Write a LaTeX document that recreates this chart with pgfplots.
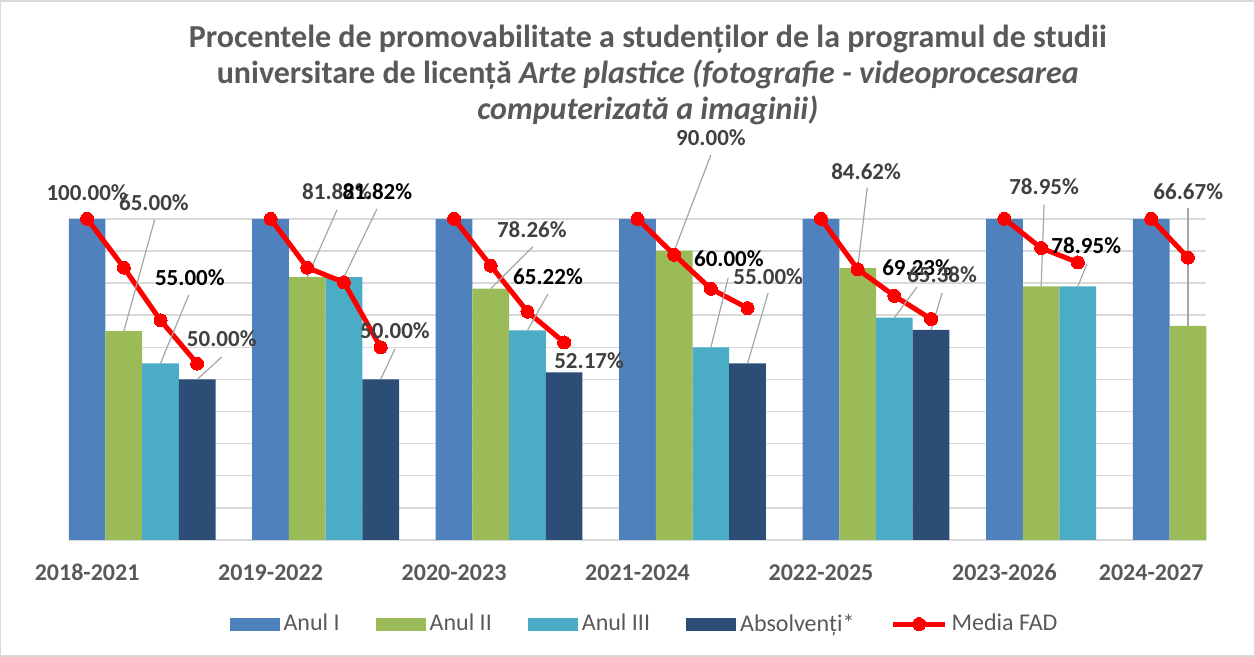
\documentclass[border=0pt]{standalone}
\usepackage{fontspec}
\setmainfont{Carlito}
\usepackage{pgfplots}
\pgfplotsset{compat=1.18}

\definecolor{anul1}{HTML}{4F81BD}
\definecolor{anul2}{HTML}{9BBB59}
\definecolor{anul3}{HTML}{4BACC6}
\definecolor{absolv}{HTML}{2C4D75}
\definecolor{cred}{HTML}{FF0000}
\definecolor{cgrid}{HTML}{D9D9D9}
\definecolor{caxis}{HTML}{595959}
\definecolor{clab}{HTML}{404040}
\definecolor{cld}{HTML}{A6A6A6}

\pgfplotsset{
  barleg/.style={legend image code/.code={\fill[##1] (0pt,-3.25pt) rectangle (25pt,3.25pt);}},
  lineleg/.style={legend image code/.code={\draw[mark repeat=2,mark phase=2,##1] plot coordinates {(0pt,0pt) (13pt,0pt) (26pt,0pt)};}},
}
\tikzset{
  lg/.style={font=\bfseries\fontsize{11.5}{13}\selectfont, text=clab, inner sep=0pt},
  lb/.style={font=\bfseries\fontsize{11.5}{13}\selectfont, text=black, inner sep=0pt},
  ld/.style={draw=cld, line width=0.6pt},
}

\begin{document}
\begin{tikzpicture}
\begin{axis}[
    scale only axis,
    width=568.5pt, height=160.5pt,
    xmin=-0.5, xmax=30.5,
    ymin=0, ymax=100,
    clip=false,
    axis line style={draw=none},
    major tick length=0pt,
    ytick={0,10,...,100},
    yticklabel style={opacity=0},
    ymajorgrids,
    grid style={cgrid, line width=0.75pt},
    xtick={0,5,10,15,20,25,29},
    xticklabels={2018-2021,2019-2022,2020-2023,2021-2024,2022-2025,2023-2026,2024-2027},
    xticklabel style={font=\bfseries\fontsize{12}{14}\selectfont, text=caxis, anchor=base, yshift=-20.5pt},
    legend columns=5,
    legend cell align=left,
    legend style={draw=none, fill=none, at={(0.507,-0.262)}, anchor=center,
        font=\fontsize{12}{14}\selectfont, text=caxis,
        nodes={inner xsep=2pt},
        /tikz/every even column/.append style={column sep=16pt}},
]
% Anul I
\addplot[ybar, bar width=1, bar shift=0pt, fill=anul1, draw=none, barleg] coordinates {
    (0,100) (5,100) (10,100) (15,100) (20,100) (25,100) (29,100)
};
\addlegendentry{Anul I}
% Anul II
\addplot[ybar, bar width=1, bar shift=0pt, fill=anul2, draw=none, barleg] coordinates {
    (1,65) (6,81.82) (11,78.26) (16,90) (21,84.62) (26,78.95) (30,66.67)
};
\addlegendentry{Anul II}
% Anul III
\addplot[ybar, bar width=1, bar shift=0pt, fill=anul3, draw=none, barleg] coordinates {
    (2,55) (7,81.82) (12,65.22) (17,60) (22,69.23) (27,78.95)
};
\addlegendentry{Anul III}
% Absolventi
\addplot[ybar, bar width=1, bar shift=0pt, fill=absolv, draw=none, barleg] coordinates {
    (3,50) (8,50) (13,52.17) (18,55) (23,65.38)
};
\addlegendentry{Absolvenți*}
% Media FAD, one broken line per promotion
\addplot[cred, line width=2.5pt, mark=*, mark size=3.25pt,
    mark options={solid, fill=cred, draw=cred, line width=0pt},
    unbounded coords=jump, lineleg] coordinates {
    (0,100) (1,84.8) (2,68.4) (3,54.9) (4,nan)
    (5,100) (6,84.8) (7,80.2) (8,60.0) (9,nan)
    (10,100) (11,85.4) (12,71.1) (13,61.5) (14,nan)
    (15,100) (16,88.8) (17,78.2) (18,72.2) (19,nan)
    (20,100) (21,84.3) (22,76.0) (23,68.8) (24,nan)
    (25,100) (26,90.9) (27,86.4) (28,nan)
    (29,100) (30,87.9)
};
\addlegendentry{Media FAD}

% leader lines
\draw[ld] (axis cs:1.84,99.7) -- (axis cs:1,65);
\draw[ld] (axis cs:2.77,76.3) -- (axis cs:2,55);
\draw[ld] (axis cs:3.67,57.0) -- (axis cs:3,50);
\draw[ld] (axis cs:6.81,102.8) -- (axis cs:6,81.82);
\draw[ld] (axis cs:7.90,103.1) -- (axis cs:7,81.82);
\draw[ld] (axis cs:8.39,59.5) -- (axis cs:8,50);
\draw[ld] (axis cs:12.15,91.3) -- (axis cs:11,78.26);
\draw[ld] (axis cs:12.56,76.6) -- (axis cs:12,65.22);
\draw[ld] (axis cs:17.0,119.9) -- (axis cs:16,90);
\draw[ld] (axis cs:17.47,81.6) -- (axis cs:17,60);
\draw[ld] (axis cs:18.56,76.9) -- (axis cs:18,55);
\draw[ld] (axis cs:21.26,109.7) -- (axis cs:21,84.62);
\draw[ld] (axis cs:22.62,78.8) -- (axis cs:22,69.23);
\draw[ld] (axis cs:23.30,76.9) -- (axis cs:23,65.38);
\draw[ld] (axis cs:26.08,104.4) -- (axis cs:26,78.95);
\draw[ld] (axis cs:27.25,86.0) -- (axis cs:27,78.95);
\draw[ld] (axis cs:30.0,103.4) -- (axis cs:30,66.67);

% data labels
\node[lg] at (axis cs:0,108.1) {100.00\%};
\node[lg] at (axis cs:1.82,105.0) {65.00\%};
\node[lb] at (axis cs:2.80,81.6) {55.00\%};
\node[lg] at (axis cs:3.67,62.6) {50.00\%};
\node[lg] at (axis cs:6.81,108.4) {81.82\%};
\node[lb] at (axis cs:7.91,108.4) {81.82\%};
\node[lg] at (axis cs:8.39,65.1) {50.00\%};
\node[lg] at (axis cs:12.12,96.6) {78.26\%};
\node[lb] at (axis cs:12.56,81.9) {65.22\%};
\node[lg] at (axis cs:13.68,55.8) {52.17\%};
\node[lg] at (axis cs:17.0,125.2) {90.00\%};
\node[lb] at (axis cs:17.49,87.5) {60.00\%};
\node[lg] at (axis cs:18.56,81.9) {55.00\%};
\node[lg] at (axis cs:21.23,114.6) {84.62\%};
\node[lb] at (axis cs:22.62,84.7) {69.23\%};
\node[lg] at (axis cs:23.30,82.6) {65.38\%};
\node[lg] at (axis cs:26.08,110.0) {78.95\%};
\node[lb] at (axis cs:27.23,91.6) {78.95\%};
\node[lg] at (axis cs:30.01,108.4) {66.67\%};

% title
\node[align=center, text=caxis, font=\bfseries\fontsize{16}{18}\selectfont]
    at (rel axis cs:0.509,1.449)
    {Procentele de promovabilitate a studenților de la programul de studii\\
     universitare de licență {\itshape Arte plastice (fotografie - videoprocesarea}\\
     {\itshape computerizată a imaginii)}};

% chart area border
\draw[cgrid, line width=0.75pt] (rel axis cs:-0.0598,-0.3614) rectangle (rel axis cs:1.0422,1.679);
\end{axis}
\end{tikzpicture}
\end{document}
